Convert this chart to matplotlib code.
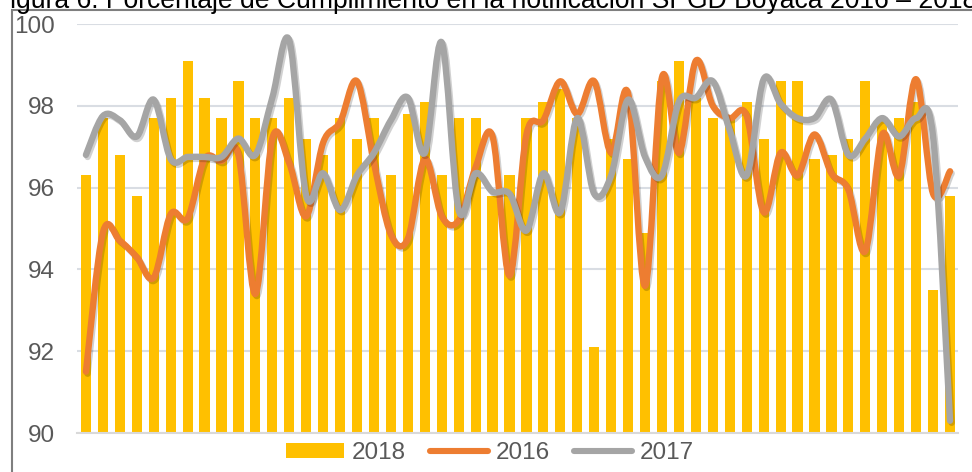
import numpy as np
import matplotlib
matplotlib.use("Agg")
import matplotlib.pyplot as plt
from matplotlib.path import Path
from matplotlib.patches import PathPatch, Patch, Rectangle
from matplotlib.lines import Line2D
import matplotlib.patheffects as pe


# semanas epidemiologicas 1..52
weeks = np.arange(1, 53)

pct_2018 = [96.3, 97.7, 96.8, 95.8, 97.7, 98.2, 99.1, 98.2, 97.7, 98.6,
            97.7, 97.7, 98.2, 97.2, 96.8, 97.7, 97.2, 97.7, 96.3, 97.8,
            98.1, 96.3, 97.7, 97.7, 95.8, 96.3, 97.7, 98.1, 98.4, 97.7,
            92.1, 97.2, 96.7, 94.9, 98.6, 99.1, 98.2, 97.7, 97.7, 98.1,
            97.2, 98.6, 98.6, 96.7, 96.8, 97.2, 98.6, 97.7, 97.7, 98.1,
            93.5, 95.8]

pct_2016 = [91.5, 94.9, 94.7, 94.3, 93.8, 95.35, 95.25, 96.7, 96.65, 96.8,
            93.4, 97.2, 96.6, 95.3, 97.1, 97.6, 98.6, 96.6, 94.85, 94.75,
            96.7, 95.3, 95.2, 96.5, 97.25, 93.85, 97.3, 97.65, 98.6, 97.8,
            98.6, 96.85, 98.3, 93.6, 98.7, 96.85, 99.1, 98.0, 97.7, 97.75,
            95.4, 96.85, 96.3, 97.3, 96.35, 95.95, 94.45, 97.3, 96.3, 98.65,
            95.85, 96.4]

pct_2017 = [96.8, 97.75, 97.65, 97.25, 98.15, 96.7, 96.75, 96.75, 96.75, 97.2,
            96.8, 98.2, 99.6, 95.8, 96.35, 95.45, 96.3, 96.85, 97.65, 98.2,
            96.85, 99.55, 95.45, 96.35, 95.9, 95.85, 94.95, 96.35, 95.4, 97.7,
            95.85, 96.3, 98.15, 96.75, 96.3, 98.1, 98.2, 98.6, 97.4, 96.3,
            98.65, 98.05, 97.7, 97.7, 98.15, 96.8, 97.2, 97.7, 97.25, 97.7,
            97.25, 90.3]

title = "Figura 6. Porcentaje de Cumplimiento en la notificación SPGD Boyacá 2016 – 2018"

c_bar = "#FFC000"
c_2016 = "#ED7D31"
c_2017 = "#A5A5A5"
c_text = "#595959"


def smooth_path(x, y):
    # curva suavizada tipo Excel (bezier con tangentes catmull-rom)
    x = np.asarray(x, float)
    y = np.asarray(y, float)
    pts = np.column_stack([x, y])
    n = len(pts)
    verts = [pts[0]]
    codes = [Path.MOVETO]
    for i in range(n - 1):
        p0 = pts[i - 1] if i > 0 else pts[i]
        p1 = pts[i]
        p2 = pts[i + 1]
        p3 = pts[i + 2] if i + 2 < n else pts[i + 1]
        verts += [p1 + (p2 - p0) / 6, p2 - (p3 - p1) / 6, p2]
        codes += [Path.CURVE4] * 3
    return Path(verts, codes)


plt.rcParams['font.family'] = ['Liberation Sans', 'DejaVu Sans']

fig = plt.figure(figsize=(9.72, 4.72), dpi=100)
ax = fig.add_axes([0.0797, 0.0826, 0.9064, 0.8665])

ax.bar(weeks, np.array(pct_2018) - 90, bottom=90, width=0.6, color=c_bar, zorder=2)

shadow = [pe.SimpleLineShadow(offset=(1.2, -1.5), shadow_color="k", alpha=0.18), pe.Normal()]
for vals, col in [(pct_2016, c_2016), (pct_2017, c_2017)]:
    patch = PathPatch(smooth_path(weeks, vals), fill=False, edgecolor=col,
                      linewidth=4.6, capstyle="round", joinstyle="round", zorder=3)
    patch.set_path_effects(shadow)
    ax.add_patch(patch)

ax.set_xlim(0.5, 52.5)
ax.set_ylim(90, 100)
ax.set_yticks(np.arange(90, 101, 2))
ax.set_xticks([])
ax.grid(axis="y", color="#D9DDE3", linewidth=1.5, zorder=0)
ax.set_axisbelow(True)
for s in ["top", "right", "left"]:
    ax.spines[s].set_visible(False)
ax.spines["bottom"].set_color("#D9D9D9")
ax.spines["bottom"].set_linewidth(1.5)
ax.tick_params(axis="y", length=0, pad=16, labelsize=17.5, labelcolor=c_text)

handles = [Patch(facecolor=c_bar, edgecolor="none"),
           Line2D([], [], color=c_2016, linewidth=4.4, solid_capstyle="round"),
           Line2D([], [], color=c_2017, linewidth=4.4, solid_capstyle="round")]
fig.legend(handles, ["2018", "2016", "2017"], loc="center", bbox_to_anchor=(0.504, 0.04),
           ncol=3, frameon=False, fontsize=17.5, labelcolor=c_text, handlelength=2.4,
           handleheight=0.6, handletextpad=0.3, columnspacing=1.0)

# marco del grafico y titulo cortado arriba (como en el documento original)
fig.add_artist(Rectangle((12 / 972, -0.1), 1.2, 1.1 - 10 / 472, transform=fig.transFigure,
                         fill=False, edgecolor="#7F7F7F", linewidth=1.5))
fig.text(-0.006, 1 - 8 / 472, title, fontsize=19.1, color="black", va="baseline", ha="left")

fig.savefig("out.png", dpi=100)
